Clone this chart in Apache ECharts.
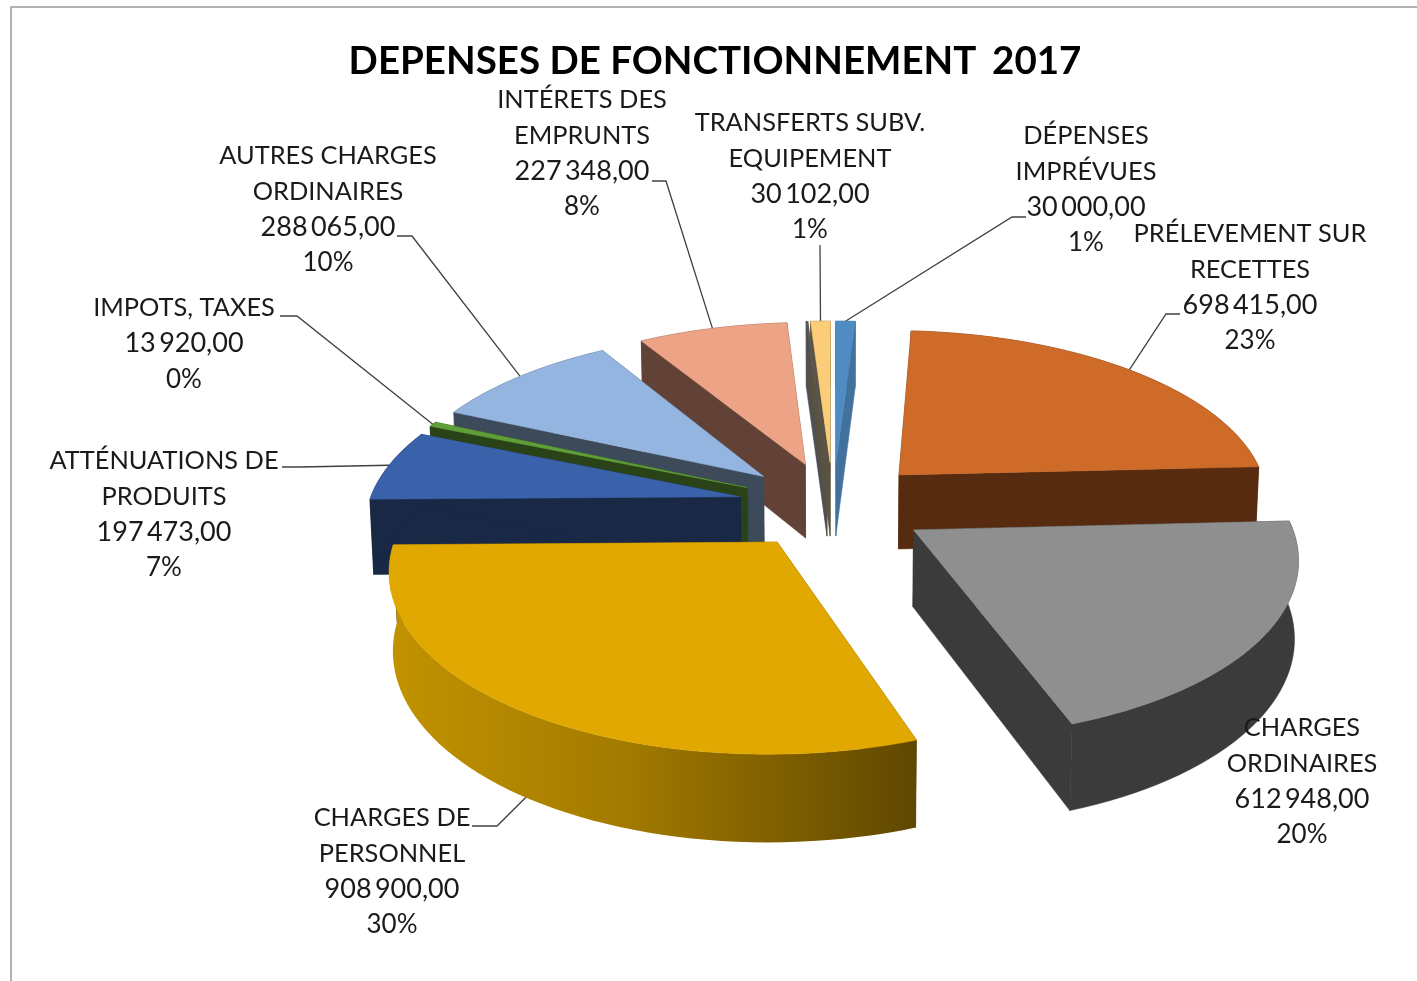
<!DOCTYPE html>
<html>
<head>
<meta charset="utf-8">
<title>Depenses de fonctionnement 2017</title>
<script src="https://cdn.jsdelivr.net/npm/echarts@6/dist/echarts.min.js"></script>
<style>
    html, body { margin: 0; padding: 0; background: #fff; overflow: hidden; }
    #chart { width: 1417px; height: 981px; }
</style>
</head>
<body>
<div id="chart"></div>
<script>
// #region Data
const categories = [
    "DÉPENSES\nIMPRÉVUES", "PRÉLEVEMENT SUR\nRECETTES", "CHARGES\nORDINAIRES",
    "CHARGES DE\nPERSONNEL", "ATTÉNUATIONS DE\nPRODUITS", "IMPOTS, TAXES",
    "AUTRES CHARGES\nORDINAIRES", "INTÉRETS DES\nEMPRUNTS", "", "TRANSFERTS SUBV.\nEQUIPEMENT"
];
const values = [30000, 698415, 612948, 908900, 197473, 13920, 288065, 227348, 2500, 30102];
// #endregion

// #region Style
const topColors = ["#4e8cc3", "#ce6b28", "#8f8f8f", "#e0a800", "#3a62ab", "#5f9e38", "#94b5df", "#eda385", "#5a5a5a", "#fccd78"];
const wallColors = ["#41719c", "#562b0f", "#3b3b3b", "#5f4700", "#182845", "#2a4217", "#3c4a5a", "#624136", "#505050", "#5a5240"];

// label block centre x, first line centre y
const labelPos = [[1086, 136], [1250, 234], [1302, 728], [392, 818], [164, 461], [184, 308], [328, 156], [582, 100], null, [810, 123]];
// leader line start + elbow, the end is taken from the slice itself
const leaderPos = [
    [[1026, 217], [1012, 217]], [[1180, 314], [1166, 314]], null,
    [[472, 826], [497, 826]], [[282, 467], [300, 467]], [[280, 316], [297, 316]],
    [[397, 236], [412, 236]], [[652, 181], [666, 181]], null, [[820, 245], [820, 245]]
];
// where the leader hits the outer arc, as a fraction of the slice
const leaderAt = [0.5, 0.5, 0.5, 0.4, 0.5, 0.5, 0.5, 0.5, 0.5, 0.5];
// #endregion

// #region Projection
const CX = 833, CY = 505;
const RADIUS = 372, EXPLODE = 95, THICK = 86;
const TILT = 27.5 * Math.PI / 180, FOCAL = 2400;
const Z_DEPTH = 0.5; // walls converge less than a true camera would
const LINE_H = 35.7;

const total = values.reduce((a, b) => a + b, 0);
const starts = [];
values.reduce((acc, v, i) => { starts[i] = acc; return acc + v; }, 0);

function project(x, y, z) {
    const v = z * Math.cos(TILT) - y * Math.sin(TILT);
    const w = y * Math.cos(TILT) + z * Z_DEPTH * Math.sin(TILT);
    const s = FOCAL / (FOCAL - w);
    return [CX + x * s, CY - v * s];
}

function formatValue(v) {
    const s = String(v).replace(/\B(?=(\d{3})+$)/g, "\u2009");
    return s + ",00";
}
// #endregion

function renderSlice(params, api) {
    const i = params.dataIndex;
    const value = api.value(0);
    const a0 = starts[i] / total * Math.PI * 2;
    const a1 = (starts[i] + value) / total * Math.PI * 2;
    const mid = (a0 + a1) / 2;

    const ox = EXPLODE * Math.sin(mid), oy = -EXPLODE * Math.cos(mid);
    const point = (a, r, z) => project(ox + r * Math.sin(a), oy - r * Math.cos(a), z);

    const steps = Math.max(2, Math.ceil((a1 - a0) / (Math.PI / 90)));
    const top = [], bottom = [];
    for (let k = 0; k <= steps; k++) {
        const a = a0 + (a1 - a0) * k / steps;
        top.push(point(a, RADIUS, 0));
        bottom.push(point(a, RADIUS, -THICK));
    }
    const apexTop = point(0, 0, 0), apexBottom = point(0, 0, -THICK);

    // back slices first, front slices last
    const order = Math.round(-Math.cos(mid) * 100) + 200;
    const wall = wallColors[i];
    const arcFill = i === 3
        ? new echarts.graphic.LinearGradient(0, 0, 1, 0, [
            { offset: 0, color: "#c29300" },
            { offset: 0.45, color: "#a27a00" },
            { offset: 1, color: "#5f4700" }
        ])
        : wall;
    const poly = (points, fill, stroke, z2) => ({
        type: "polygon",
        shape: { points },
        style: { fill, stroke, lineWidth: 0.5 },
        z2,
        silent: true
    });

    const children = [
        poly([apexTop, top[0], bottom[0], apexBottom], wall, wall, order),
        poly([apexTop, top[steps], bottom[steps], apexBottom], wall, wall, order),
        poly(top.concat(bottom.slice().reverse()), arcFill, i === 3 ? null : wall, order + 1),
        poly([apexTop].concat(top), topColors[i], topColors[i], order + 2)
    ];

    if (leaderPos[i]) {
        const hit = a0 + (a1 - a0) * leaderAt[i];
        children.push({
            type: "polyline",
            shape: { points: leaderPos[i].concat([point(hit, RADIUS, 0)]) },
            style: { stroke: "#404040", lineWidth: 1.3, fill: null },
            z2: 50,
            silent: true
        });
    }

    if (labelPos[i]) {
        const pct = Math.round(value / total * 100) + "%";
        const names = categories[i].split("\n");
        const lines = names.concat([formatValue(value), pct]);
        lines.forEach((line, n) => {
            children.push({
                type: "text",
                style: {
                    text: line,
                    x: labelPos[i][0],
                    y: labelPos[i][1] + n * LINE_H,
                    align: "center",
                    verticalAlign: "middle",
                    fontFamily: "Lato",
                    fontSize: n < names.length ? 25.4 : (n === names.length ? 27 : 26),
                    fill: "#1a1a1a"
                },
                z2: 900,
                silent: true
            });
        });
    }

    return { type: "group", children };
}

const chart = echarts.init(document.getElementById("chart"), null, { renderer: "canvas" });
chart.setOption({
    animation: false,
    backgroundColor: "#fff",
    title: {
        text: "DEPENSES DE FONCTIONNEMENT \u20062017",
        left: 710,
        top: 57,
        textAlign: "center",
        textVerticalAlign: "middle",
        textStyle: { fontFamily: "Lato", fontSize: 38.5, fontWeight: "bold", color: "#000" }
    },
    graphic: [{
        type: "rect",
        shape: { x: 11, y: 7, width: 1600, height: 1200 },
        style: { fill: null, stroke: "#999", lineWidth: 1.5 },
        silent: true
    }],
    series: [{
        type: "custom",
        coordinateSystem: "none",
        renderItem: renderSlice,
        data: values
    }]
});
</script>
</body>
</html>
